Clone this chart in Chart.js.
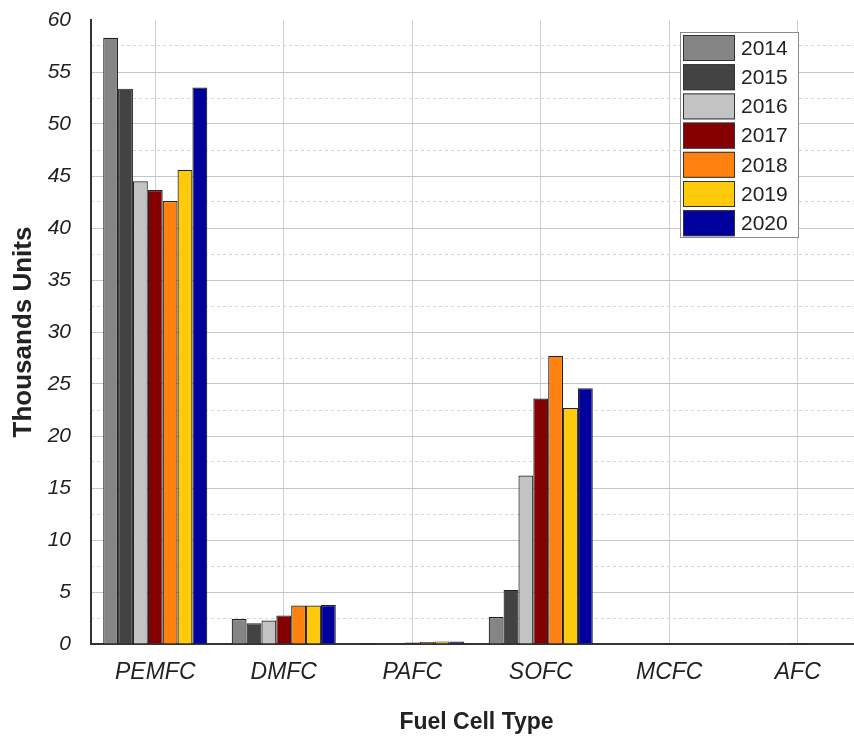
<!DOCTYPE html>
<html>
<head>
<meta charset="utf-8">
<script src="https://cdn.jsdelivr.net/npm/chart.js@4.4.1/dist/chart.umd.min.js"></script>
<style>
  html, body { margin: 0; padding: 0; background: #fff; overflow: hidden; }
  #wrap { width: 872px; height: 740px; }
</style>
</head>
<body>
<div id="wrap"><canvas id="chart"></canvas></div>
<script>
const categories = ['PEMFC', 'DMFC', 'PAFC', 'SOFC', 'MCFC', 'AFC'];
const years = ['2014', '2015', '2016', '2017', '2018', '2019', '2020'];
const v2014 = [58.3, 2.4, 0.03, 2.6, 0.1, 0];
const v2015 = [53.4, 2.0, 0.05, 5.2, 0, 0];
const v2016 = [44.5, 2.25, 0.06, 16.2, 0, 0.08];
const v2017 = [43.65, 2.75, 0.15, 23.6, 0, 0.1];
const v2018 = [42.6, 3.7, 0.2, 27.7, 0, 0.05];
const v2019 = [45.6, 3.7, 0.25, 22.7, 0, 0];
const v2020 = [53.5, 3.75, 0.25, 24.6, 0, 0];
const yearColors = ['#858585', '#434343', '#c3c3c3', '#850000', '#ff8210', '#ffc90c', '#00009c'];

const series = [v2014, v2015, v2016, v2017, v2018, v2019, v2020];

const legendBox = {
  id: 'legendBox',
  afterDraw(chart) {
    const ctx = chart.ctx;
    const x = 680, y = 32, w = 118, h = 205;
    ctx.save();
    ctx.fillStyle = '#fff';
    ctx.fillRect(x, y, w, h);
    ctx.strokeStyle = '#8a8a8a';
    ctx.lineWidth = 1;
    ctx.strokeRect(x + 0.5, y + 0.5, w, h);
    ctx.font = '21px "Liberation Sans", Arial, sans-serif';
    ctx.textBaseline = 'middle';
    chart.data.datasets.forEach((ds, i) => {
      const top = y + 3 + i * 29.2;
      ctx.fillStyle = ds.backgroundColor;
      ctx.fillRect(x + 3, top, 52, 26);
      ctx.strokeStyle = '#333';
      ctx.strokeRect(x + 3.5, top + 0.5, 51, 25);
      ctx.fillStyle = '#222';
      ctx.fillText(ds.label, x + 61, top + 14);
    });
    ctx.restore();
  }
};

new Chart(document.getElementById('chart'), {
  type: 'bar',
  data: {
    labels: categories,
    datasets: years.map((yr, i) => ({
      label: yr,
      data: series[i],
      backgroundColor: yearColors[i],
      borderColor: '#222',
      borderWidth: 1.2,
      categoryPercentage: 0.81,
      barPercentage: 1
    }))
  },
  options: {
    responsive: true,
    maintainAspectRatio: false,
    animation: false,
    layout: { padding: { top: 20, right: 10, left: 0, bottom: 0 } },
    plugins: { legend: { display: false }, tooltip: { enabled: false } },
    scales: {
      x: {
        grid: { offset: false, color: '#cfcfcf', lineWidth: 1, drawTicks: false },
        border: { color: '#333', width: 2 },
        ticks: {
          color: '#222',
          padding: 15,
          font: { family: '"Liberation Sans", Arial, sans-serif', size: 23, style: 'italic' }
        },
        title: {
          display: true,
          text: 'Fuel Cell Type',
          color: '#222',
          padding: { top: 0, bottom: 4 },
          font: { family: '"Liberation Sans", Arial, sans-serif', size: 23, weight: 'bold' }
        },
        afterFit: (s) => { s.height = 96; s.paddingLeft = 0; s.paddingRight = 0; }
      },
      y: {
        min: 0,
        max: 60,
        ticks: {
          stepSize: 5,
          color: '#222',
          padding: 20,
          font: { family: '"Liberation Sans", Arial, sans-serif', size: 21, style: 'italic' }
        },
        grid: {
          color: (c) => (c.tick && c.tick.value === 60 ? 'rgba(0,0,0,0)' : '#c6c6c6'),
          lineWidth: 1,
          drawTicks: false
        },
        border: { color: '#333', width: 2 },
        title: {
          display: true,
          text: 'Thousands Units',
          color: '#222',
          padding: { top: 8, bottom: 0 },
          font: { family: '"Liberation Sans", Arial, sans-serif', size: 26, weight: 'bold' }
        },
        afterFit: (s) => { s.width = 91; s.paddingTop = 0; s.paddingBottom = 0; }
      },
      yMinor: {
        position: 'right',
        min: 0,
        max: 60,
        ticks: { stepSize: 2.5, display: false },
        grid: {
          drawTicks: false,
          color: (c) => (c.index % 2 === 1 ? '#d4d4d4' : 'rgba(0,0,0,0)'),
          lineWidth: 1
        },
        border: { display: false, dash: [3, 3] },
        afterFit: (s) => { s.width = 0; s.paddingTop = 0; s.paddingBottom = 0; }
      }
    }
  },
  plugins: [legendBox]
});
</script>
</body>
</html>
